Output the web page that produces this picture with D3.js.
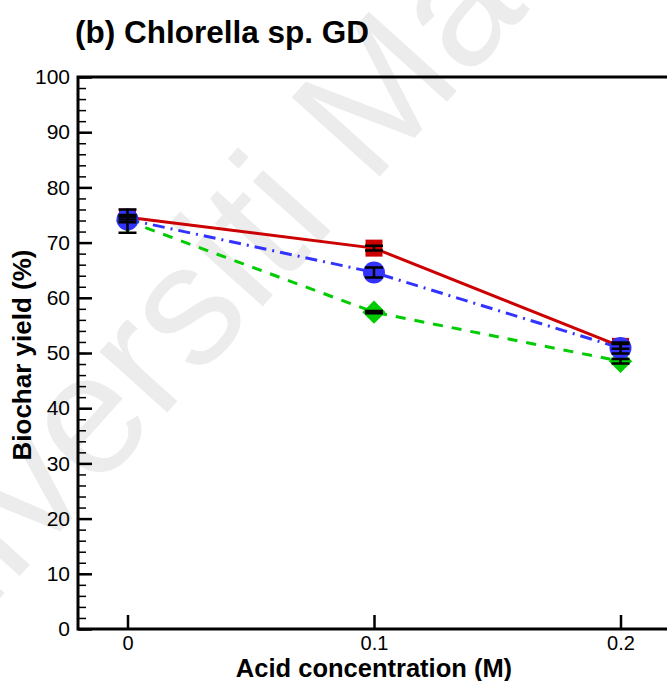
<!DOCTYPE html>
<html>
<head>
<meta charset="utf-8">
<script src="https://cdn.jsdelivr.net/npm/d3@7/dist/d3.min.js"></script>
<style>
  html, body { margin: 0; padding: 0; background: #fff; }
  svg { display: block; font-family: Arial, "Liberation Sans", Helvetica, sans-serif; }
</style>
</head>
<body>
<svg id="chart" width="667" height="681"></svg>
<script>
// Acid concentration (M) levels
const concentrations = [0, 0.1, 0.2];
const xTickLabels = ["0", "0.1", "0.2"];

// Biochar yield (%) for each acid series, with standard deviations
const redYield   = [74.6, 69.0, 51.2];
const redErr     = [0.4, 0.45, 0.45];
const greenYield = [73.9, 57.4, 48.5];
const greenErr   = [2.1, 0.2, 0.4];
const blueYield  = [74.2, 64.6, 50.9];
const blueErr    = [0.5, 0.9, 1.0];

const yTicks = [0, 10, 20, 30, 40, 50, 60, 70, 80, 90, 100];

const svg = d3.select("#chart");
const W = 667;
const plotLeft = 78, plotTop = 77, plotBottom = 629;

const x = d3.scaleLinear().domain([0, 0.2]).range([127.5, 620.5]);
const y = d3.scaleLinear().domain([0, 100]).range([plotBottom, plotTop]);

// background watermark
svg.append("text")
  .attr("transform", "translate(-135,748) rotate(-48)")
  .attr("font-size", 172)
  .attr("fill", "#ececec")
  .text("Universiti Malaya");

// title
svg.append("text")
  .attr("x", 75).attr("y", 43)
  .attr("font-size", 31.5).attr("font-weight", "bold")
  .text("(b) Chlorella sp. GD");

// minor y ticks
svg.append("g")
  .attr("transform", `translate(${plotLeft},0)`)
  .call(d3.axisLeft(y).tickValues(d3.range(0, 101, 2)).tickSizeInner(-8).tickSizeOuter(0).tickFormat(""))
  .call(g => g.select(".domain").remove())
  .call(g => g.selectAll("line").attr("stroke", "#000").attr("stroke-width", 1.5));

// major y ticks with labels
svg.append("g")
  .attr("transform", `translate(${plotLeft},0)`)
  .call(d3.axisLeft(y).tickValues(yTicks).tickSizeInner(-14).tickSizeOuter(0).tickPadding(8))
  .call(g => g.select(".domain").remove())
  .call(g => g.selectAll("line").attr("stroke", "#000").attr("stroke-width", 2.5))
  .call(g => g.selectAll("text").attr("font-size", 21).attr("fill", "#000").attr("font-family", "Arial, 'Liberation Sans', sans-serif"));

// x ticks with labels
svg.append("g")
  .attr("transform", `translate(0,${plotBottom})`)
  .call(d3.axisBottom(x).tickValues(concentrations).tickSizeInner(-14).tickSizeOuter(0).tickPadding(7)
    .tickFormat((d, i) => xTickLabels[i]))
  .call(g => g.select(".domain").remove())
  .call(g => g.selectAll("line").attr("stroke", "#000").attr("stroke-width", 2.5))
  .call(g => g.selectAll("text").attr("font-size", 20).attr("fill", "#000").attr("font-family", "Arial, 'Liberation Sans', sans-serif"));

// plot frame (left, top, bottom)
svg.append("path")
  .attr("d", `M${W},${plotTop}H${plotLeft}V${plotBottom}H${W}`)
  .attr("fill", "none").attr("stroke", "#000").attr("stroke-width", 3);

// axis titles
svg.append("text")
  .attr("x", 374).attr("y", 677)
  .attr("text-anchor", "middle")
  .attr("font-size", 25.5).attr("font-weight", "bold")
  .text("Acid concentration (M)");

svg.append("text")
  .attr("transform", "translate(31,355) rotate(-90)")
  .attr("text-anchor", "middle")
  .attr("font-size", 26).attr("font-weight", "bold")
  .text("Biochar yield (%)");

const series = [
  { vals: redYield,   err: redErr,   color: "#cc0000", dash: null,       shape: "square"  },
  { vals: greenYield, err: greenErr, color: "#00cc00", dash: "10,9",     shape: "diamond" },
  { vals: blueYield,  err: blueErr,  color: "#3333ff", dash: "12,6,2,6", shape: "circle"  }
];

const line = d3.line().x((d, i) => x(concentrations[i])).y(d => y(d));

// connecting lines (blue under red)
[series[1], series[2], series[0]].forEach(s => {
  svg.append("path")
    .attr("d", line(s.vals))
    .attr("fill", "none")
    .attr("stroke", s.color)
    .attr("stroke-width", 3)
    .attr("stroke-dasharray", s.dash);
});

const symbols = {
  square:  { gen: d3.symbol().type(d3.symbolSquare).size(17 * 17), rot: 0 },
  diamond: { gen: d3.symbol().type(d3.symbolSquare).size(16.5 * 16.5), rot: 45 },
  circle:  { gen: d3.symbol().type(d3.symbolCircle).size(Math.PI * 11 * 11), rot: 0 }
};

// markers
series.forEach(s => {
  const sym = symbols[s.shape];
  svg.append("g").selectAll("path")
    .data(s.vals)
    .join("path")
    .attr("transform", (d, i) => `translate(${x(concentrations[i])},${y(d)}) rotate(${sym.rot})`)
    .attr("d", sym.gen())
    .attr("fill", s.color);
});

// error bars
const capW = 9;
series.forEach(s => {
  const g = svg.append("g").attr("stroke", "#000").attr("stroke-width", 2.5).attr("fill", "none");
  s.vals.forEach((v, i) => {
    const cx = x(concentrations[i]);
    const y1 = y(v + s.err[i]), y0 = y(v - s.err[i]);
    g.append("path")
      .attr("d", `M${cx},${y1}V${y0}M${cx - capW},${y1}H${cx + capW}M${cx - capW},${y0}H${cx + capW}`);
  });
});
</script>
</body>
</html>
